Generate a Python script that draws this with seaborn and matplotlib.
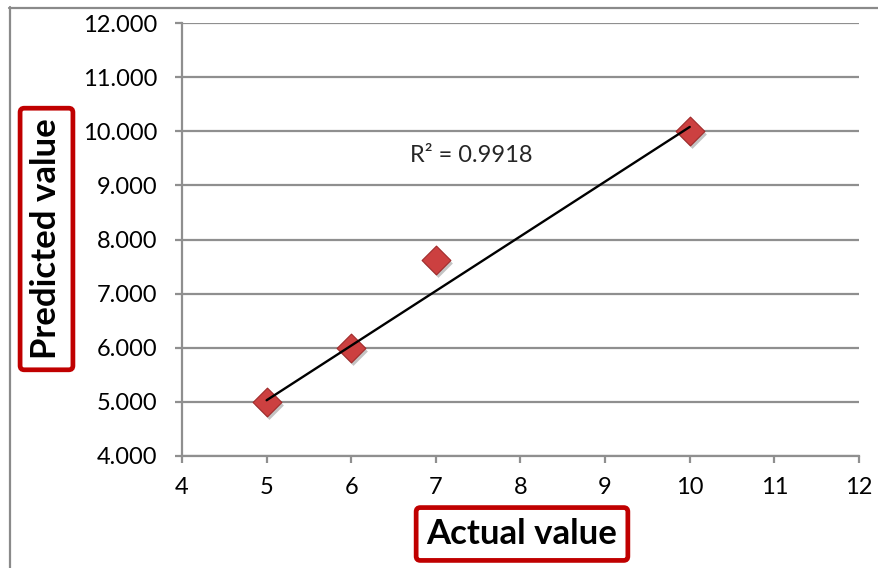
import matplotlib
matplotlib.use("Agg")
import matplotlib.pyplot as plt
import matplotlib.transforms as mtransforms
from matplotlib.lines import Line2D
import seaborn as sns
import pandas as pd

# ---- data ----
actual = [5, 6, 7, 10]
predicted = [5.0, 6.0, 7.62, 10.0]
trend_x = [5, 10]
trend_y = [5.03, 10.08]
r2_label = "R² = 0.9918"
x_ticks = [4, 5, 6, 7, 8, 9, 10, 11, 12]
y_ticks = [4, 5, 6, 7, 8, 9, 10, 11, 12]
x_title = "Actual value"
y_title = "Predicted value"

sns.set_theme(style="white")
plt.rcParams['font.family'] = ['Lato', 'DejaVu Sans']

W, H = 879, 568
fig = plt.figure(figsize=(W / 100, H / 100), dpi=100)
ax = fig.add_axes([182 / W, 1 - 456 / H, (859 - 182) / W, (456 - 23) / H])

df = pd.DataFrame({"actual": actual, "predicted": predicted})
grid_c = "#8f8f8f"

# horizontal gridlines
ax.set_axisbelow(True)
ax.yaxis.grid(True, color=grid_c, linewidth=1.6)
ax.xaxis.grid(False)

# shadow of markers
shadow = mtransforms.offset_copy(ax.transData, fig=fig, x=2, y=-3, units='dots')
ax.scatter(actual, predicted, marker='D', s=215, color='#555555', alpha=0.35,
           linewidths=0, transform=shadow, zorder=2)

sns.scatterplot(data=df, x="actual", y="predicted", marker='D', s=215,
                color='#cc4040', edgecolor='#a02a2a', linewidth=0.8, ax=ax, zorder=3)

sns.lineplot(x=trend_x, y=trend_y, color='black', linewidth=1.7, ax=ax, zorder=4)

ax.set_xlim(4, 12)
ax.set_ylim(4, 12)
ax.set_xticks(x_ticks)
ax.set_yticks(y_ticks)
ax.set_xticklabels([str(v) for v in x_ticks])
ax.set_yticklabels([f"{v}.000" for v in y_ticks])
ax.set_xlabel("")
ax.set_ylabel("")

for s in ["top", "right"]:
    ax.spines[s].set_visible(False)
for s in ["left", "bottom"]:
    ax.spines[s].set_color(grid_c)
    ax.spines[s].set_linewidth(1.6)

ax.tick_params(axis='both', which='major', direction='out', length=5, width=1.6,
               color=grid_c, labelsize=17, labelcolor='black')
ax.tick_params(axis='y', pad=13)
ax.tick_params(axis='x', pad=10)
ax.tick_params(left=True, bottom=True)

fig.text(471 / W, 1 - 155 / H, r2_label, fontsize=17, ha='center', va='center')

box = dict(boxstyle='round,pad=0.3,rounding_size=0.12', fc='white', ec='#c00000', lw=3.4)
fig.text(522 / W, 1 - 534 / H, x_title, fontsize=25, fontweight='bold',
         ha='center', va='center', bbox=box, color='black')
fig.text(46.5 / W, 1 - 239 / H, y_title, fontsize=25, fontweight='bold',
         rotation=90, ha='center', va='center', bbox=box, color='black')

# outer chart frame
fig.add_artist(Line2D([9.5 / W, 9.5 / W], [0, 1 - 7 / H], transform=fig.transFigure,
                      color='#8a8a8a', linewidth=1.6))
fig.add_artist(Line2D([9 / W, 1], [1 - 7.5 / H, 1 - 7.5 / H], transform=fig.transFigure,
                      color='#8a8a8a', linewidth=1.6))

fig.savefig("out.png", dpi=100)
